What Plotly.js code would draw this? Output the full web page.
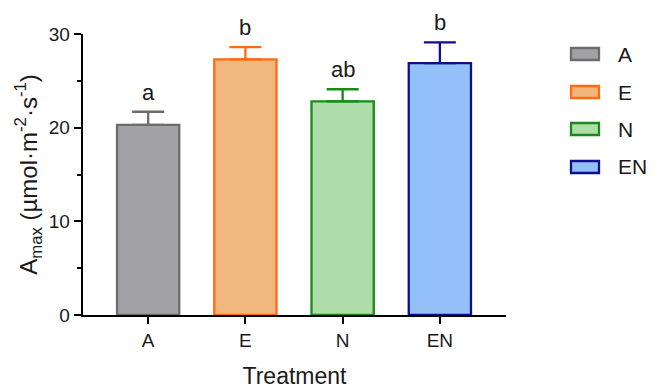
<!DOCTYPE html>
<html>
<head>
<meta charset="utf-8">
<script src="https://cdn.plot.ly/plotly-3.0.1.min.js"></script>
<style>html,body{margin:0;padding:0;background:#fff;}#chart{width:662px;height:389px;}</style>
</head>
<body>
<div id="chart"></div>
<script>
const categories = ['A', 'E', 'N', 'EN'];
const means = [20.3, 27.3, 22.8, 26.9];
const errors = [1.4, 1.3, 1.3, 2.2];
const letters = ['a', 'b', 'ab', 'b'];
const fillColors = ['#a2a1a6', '#f2b77d', '#aedda9', '#93c0f8'];
const lineColors = ['#6c6c6c', '#ff6b14', '#188a18', '#0f0f8a'];
const yTicks = [0, 10, 20, 30];

const W = 662, H = 389;
const M = {l: 83, r: 156, t: 34, b: 74};
const pw = W - M.l - M.r, ph = H - M.t - M.b;
const px2x = p => (p - M.l) / pw;
const px2y = p => 1 - (p - M.t) / ph;

const FONT = 'Liberation Sans, Arial, sans-serif';
const TXT = '#1a1a1a';

const traces = categories.map((c, i) => ({
  type: 'bar',
  x: [c],
  y: [means[i]],
  name: c,
  width: 0.64,
  marker: {color: fillColors[i], line: {color: lineColors[i], width: 2.3}},
  error_y: {type: 'data', symmetric: false, array: [errors[i]], arrayminus: [0],
            color: lineColors[i], thickness: 2.3, width: 16},
  showlegend: false,
  hoverinfo: 'none'
}));

const annotations = categories.map((c, i) => ({
  x: c, y: means[i] + errors[i], xref: 'x', yref: 'y',
  text: letters[i], showarrow: false, yanchor: 'bottom', yshift: 5,
  font: {family: FONT, size: 22, color: TXT}
}));

const shapes = [];
const legY = [54, 92, 129, 167];
categories.forEach((c, i) => {
  shapes.push({
    type: 'rect', xref: 'paper', yref: 'paper',
    x0: px2x(571), x1: px2x(599), y0: px2y(legY[i] + 6), y1: px2y(legY[i] - 6),
    fillcolor: fillColors[i], line: {color: lineColors[i], width: 2.3}
  });
  annotations.push({
    xref: 'paper', yref: 'paper', x: px2x(616), y: px2y(legY[i]),
    xanchor: 'left', yanchor: 'middle', text: c, showarrow: false,
    font: {family: FONT, size: 21, color: TXT}
  });
});

const layout = {
  width: W, height: H,
  margin: M,
  paper_bgcolor: '#fff', plot_bgcolor: '#fff',
  showlegend: false,
  bargap: 0.36,
  font: {family: FONT, color: TXT},
  xaxis: {
    type: 'category', categoryorder: 'array', categoryarray: categories,
    range: [-0.67, 3.68],
    showline: true, linecolor: '#000', linewidth: 2.3,
    ticks: 'outside', ticklen: 7, tickwidth: 2, tickcolor: '#000',
    tickfont: {family: FONT, size: 19, color: TXT},
    showgrid: false, zeroline: false, fixedrange: true,
    title: {text: 'Treatment', font: {family: FONT, size: 23, color: TXT}, standoff: 19}
  },
  yaxis: {
    range: [0, 30], tickvals: yTicks, ticktext: yTicks.map(String),
    showline: true, linecolor: '#000', linewidth: 2.3,
    ticks: 'outside', ticklen: 7, tickwidth: 2, tickcolor: '#000',
    minor: {dtick: 5, ticks: 'outside', ticklen: 4, tickwidth: 2, tickcolor: '#000', showgrid: false},
    tickfont: {family: FONT, size: 19, color: TXT},
    showgrid: false, zeroline: false, fixedrange: true,
    title: {text: 'A<sub>max</sub> (µmol·m<sup>-2</sup>·s<sup>-1</sup>)', font: {family: FONT, size: 24, color: TXT}, standoff: 5}
  },
  annotations: annotations,
  shapes: shapes
};

Plotly.newPlot('chart', traces, layout, {displayModeBar: false, staticPlot: true});
</script>
</body>
</html>
